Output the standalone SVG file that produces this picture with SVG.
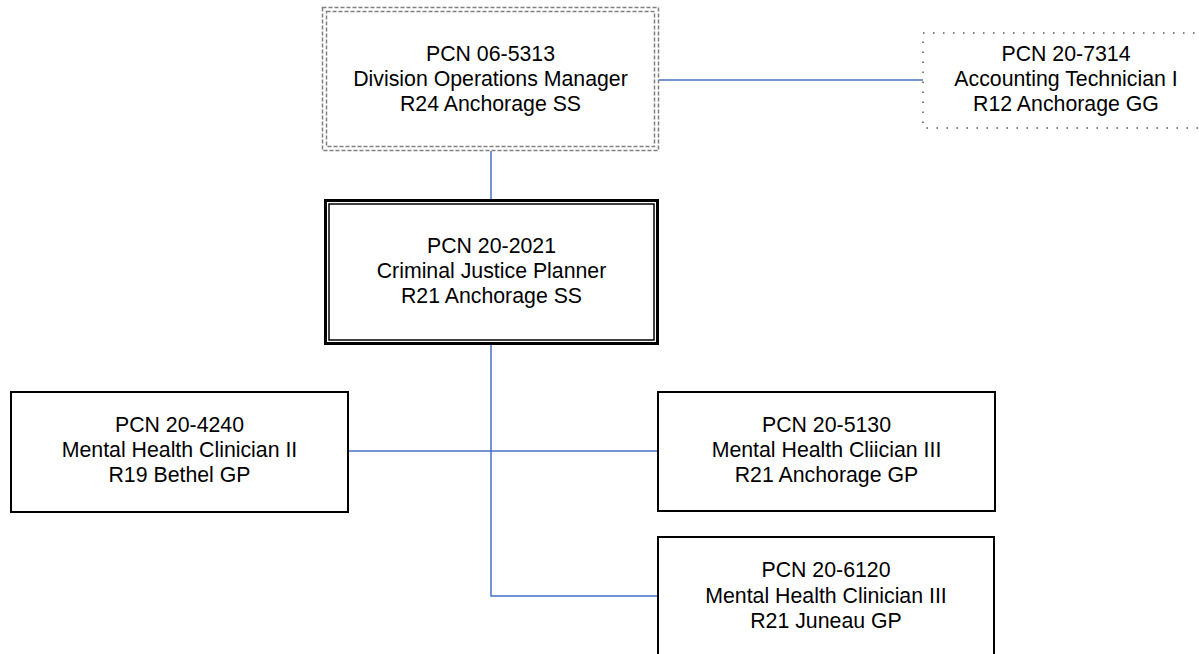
<svg xmlns="http://www.w3.org/2000/svg" width="1199" height="654" viewBox="0 0 1199 654">
<style>
text{font-family:"Liberation Sans",Arial,sans-serif;font-size:21.3px;fill:#000;text-anchor:middle}
.solid{fill:#fff;stroke:#000;stroke-width:2}
.dash{fill:none;stroke:#7f7f7f;stroke-width:1.5;stroke-dasharray:4 2}
.dot{fill:none;stroke:#555;stroke-width:1.5;stroke-dasharray:1.5 8.5}
.conn{fill:none;stroke:#4472C4;stroke-width:1.5}
</style>
<rect width="1199" height="654" fill="#fff"/>
<g id="connectors">
<line class="conn" x1="659" y1="80" x2="923" y2="80"/>
<line class="conn" x1="491" y1="151" x2="491" y2="200"/>
<polyline class="conn" points="491,344 491,596 658,596"/>
<line class="conn" x1="348" y1="451" x2="658" y2="451"/>
</g>
<g id="node-06-5313">
<rect x="322.5" y="7.5" width="336" height="143" fill="#fff" class="dash"/>
<rect x="326.5" y="11.5" width="328" height="135" class="dash"/>
<text x="490.5" y="61">PCN 06-5313</text>
<text x="490.5" y="86">Division Operations Manager</text>
<text x="490.5" y="111">R24 Anchorage SS</text>
</g>
<g id="node-20-7314">
<rect x="923" y="33" width="290" height="95" class="dot"/>
<text x="1066" y="61">PCN 20-7314</text>
<text x="1066" y="86">Accounting Technician I</text>
<text x="1066" y="111">R12 Anchorage GG</text>
</g>
<g id="node-20-2021">
<rect x="325.5" y="200.5" width="332" height="143" fill="#fff" stroke="#000" stroke-width="3"/>
<rect x="329" y="204" width="325" height="136" fill="none" stroke="#000" stroke-width="1.5"/>
<text x="491.5" y="253">PCN 20-2021</text>
<text x="491.5" y="278">Criminal Justice Planner</text>
<text x="491.5" y="303">R21 Anchorage SS</text>
</g>
<g id="node-20-4240">
<rect x="11" y="392" width="337" height="120" class="solid"/>
<text x="179.5" y="432">PCN 20-4240</text>
<text x="179.5" y="457">Mental Health Clinician II</text>
<text x="179.5" y="482">R19 Bethel GP</text>
</g>
<g id="node-20-5130">
<rect x="658" y="392" width="337" height="119" class="solid"/>
<text x="826.5" y="432">PCN 20-5130</text>
<text x="826.5" y="457">Mental Health Cliician III</text>
<text x="826.5" y="482">R21 Anchorage GP</text>
</g>
<g id="node-20-6120">
<rect x="658" y="537" width="336" height="130" class="solid"/>
<text x="826" y="577">PCN 20-6120</text>
<text x="826" y="603">Mental Health Clinician III</text>
<text x="826" y="628">R21 Juneau GP</text>
</g>
</svg>
